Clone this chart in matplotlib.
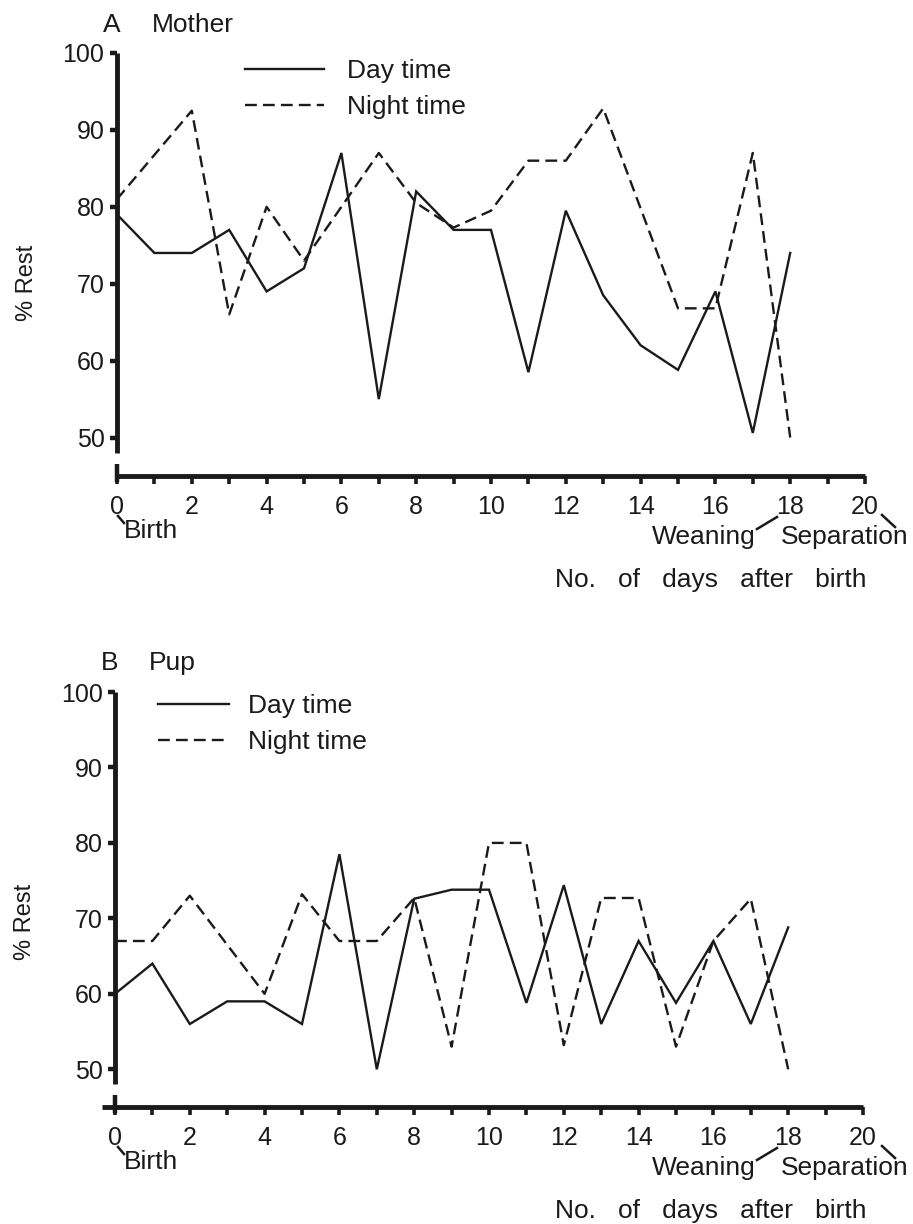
import matplotlib
matplotlib.use('Agg')
import matplotlib.pyplot as plt
from matplotlib.lines import Line2D

plt.rcParams['font.family'] = ['Liberation Sans', 'DejaVu Sans']

# 数据
days = list(range(19))
tick_days = list(range(21))
tick_labels = [str(d) if d % 2 == 0 else '' for d in tick_days]
y_ticks = [50, 60, 70, 80, 90, 100]

mother_day = [79, 74, 74, 77, 69, 72, 87, 55, 82, 77, 77, 58.5, 79.5, 68.5, 62, 58.8, 69, 50.6, 74]
mother_night_days = [0, 2, 3, 4, 5, 7, 8, 9, 10, 11, 12, 13, 15, 16, 17, 18]
mother_night = [81, 92.5, 66, 80, 73, 87, 80.5, 77.3, 79.5, 86, 86, 92.8, 66.8, 66.8, 87, 50]

pup_day = [60, 64, 56, 59, 59, 56, 78.5, 50, 72.6, 73.8, 73.8, 58.8, 74.4, 56, 67, 58.8, 67, 56, 68.8]
pup_night_days = [0, 1, 2, 4, 5, 6, 7, 8, 9, 10, 11, 12, 13, 14, 15, 16, 17, 18]
pup_night = [67, 67, 73, 60, 73.2, 67, 67, 72.7, 53, 80, 80, 53.2, 72.7, 72.7, 53, 67, 72.6, 50]

legend_labels = ['Day time', 'Night time']
dash_style = (0, (5, 2.6))
ink = '#1a1a1a'
text_size = 19


def draw_panel(ax, day_vals, night_x, night_vals, legend_anchor, handle_len, text_pad,
               stub_left, label_y):
    """
        画一个面板
    """
    ax.plot(days, day_vals, color=ink, lw=1.7, solid_joinstyle='miter')
    ax.plot(night_x, night_vals, color=ink, lw=1.7, linestyle=dash_style)

    ax.set_xlim(0, 20)
    ax.set_ylim(45, 100)

    for side in ['top', 'right']:
        ax.spines[side].set_visible(False)
    ax.spines['left'].set_bounds(48, 100)
    ax.spines['bottom'].set_bounds(stub_left, 20)
    for side in ['left', 'bottom']:
        ax.spines[side].set_linewidth(3.5)
        ax.spines[side].set_color(ink)
        ax.spines[side].set_capstyle('butt')

    # x轴起点的短竖线
    ax.plot([0, 0], [44.2, 46.6], color=ink, lw=3.2, clip_on=False,
            solid_capstyle='butt')

    ax.set_xticks(tick_days)
    ax.set_xticklabels(tick_labels)
    ax.set_yticks(y_ticks)
    ax.tick_params(axis='x', direction='out', length=6, width=2.6, pad=8,
                   labelsize=18, color=ink, labelcolor=ink)
    ax.tick_params(axis='y', direction='out', length=5, width=3.2, pad=4,
                   labelsize=18, color=ink, labelcolor=ink)
    ax.set_ylabel('% Rest', fontsize=17, color=ink)
    ax.yaxis.set_label_coords(-0.105, label_y)

    handles = [Line2D([], [], color=ink, lw=1.7),
               Line2D([], [], color=ink, lw=1.7, linestyle=dash_style)]
    ax.legend(handles, legend_labels, loc='upper left', bbox_to_anchor=legend_anchor,
              frameon=False, fontsize=text_size, handlelength=handle_len,
              handletextpad=text_pad, labelspacing=0.45, borderpad=0,
              borderaxespad=0, labelcolor=ink)


def annotate_days(fig, y_axis):
    """
        出生 / 断奶 / 分离 标注
    """
    def fx(x):
        return x / 913

    def fy(y):
        return 1 - y / 1224

    fig.text(fx(124), fy(y_axis + 55), 'Birth', fontsize=text_size, color=ink,
             ha='left', va='center')
    fig.add_artist(Line2D([fx(118), fx(124)], [fy(y_axis + 40), fy(y_axis + 47)],
                          color=ink, lw=1.8))
    fig.text(fx(652), fy(y_axis + 61), 'Weaning', fontsize=text_size, color=ink,
             ha='left', va='center')
    fig.add_artist(Line2D([fx(757), fx(777)], [fy(y_axis + 53), fy(y_axis + 41)],
                          color=ink, lw=1.8))
    fig.text(fx(781), fy(y_axis + 61), 'Separation', fontsize=text_size, color=ink,
             ha='left', va='center')
    fig.add_artist(Line2D([fx(882), fx(895)], [fy(y_axis + 39), fy(y_axis + 51)],
                          color=ink, lw=1.8))
    fig.text(fx(711), fy(y_axis + 104), 'No.   of   days   after   birth',
             fontsize=text_size, color=ink, ha='center', va='center')


def main():
    fig = plt.figure(figsize=(9.13, 12.24), dpi=100)

    ax_a = fig.add_axes([117 / 913, 1 - 476 / 1224, 748 / 913, 423 / 1224])
    draw_panel(ax_a, mother_day, mother_night_days, mother_night, (0.171, 0.985),
               3.0, 0.85, 0, 0.456)

    ax_b = fig.add_axes([115 / 913, 1 - 1107 / 1224, 748 / 913, 415 / 1224])
    draw_panel(ax_b, pup_day, pup_night_days, pup_night, (0.057, 0.995),
               2.7, 0.72, -0.35, 0.446)

    fig.text(112 / 913, 1 - 25 / 1224, 'A', fontsize=text_size, color=ink,
             ha='center', va='center')
    fig.text(152 / 913, 1 - 25 / 1224, 'Mother', fontsize=text_size, color=ink,
             ha='left', va='center')
    fig.text(110 / 913, 1 - 663 / 1224, 'B', fontsize=text_size, color=ink,
             ha='center', va='center')
    fig.text(149 / 913, 1 - 663 / 1224, 'Pup', fontsize=text_size, color=ink,
             ha='left', va='center')

    annotate_days(fig, 476)
    annotate_days(fig, 1107)

    fig.savefig('out.png', dpi=100, facecolor='white')


if __name__ == '__main__':
    main()
